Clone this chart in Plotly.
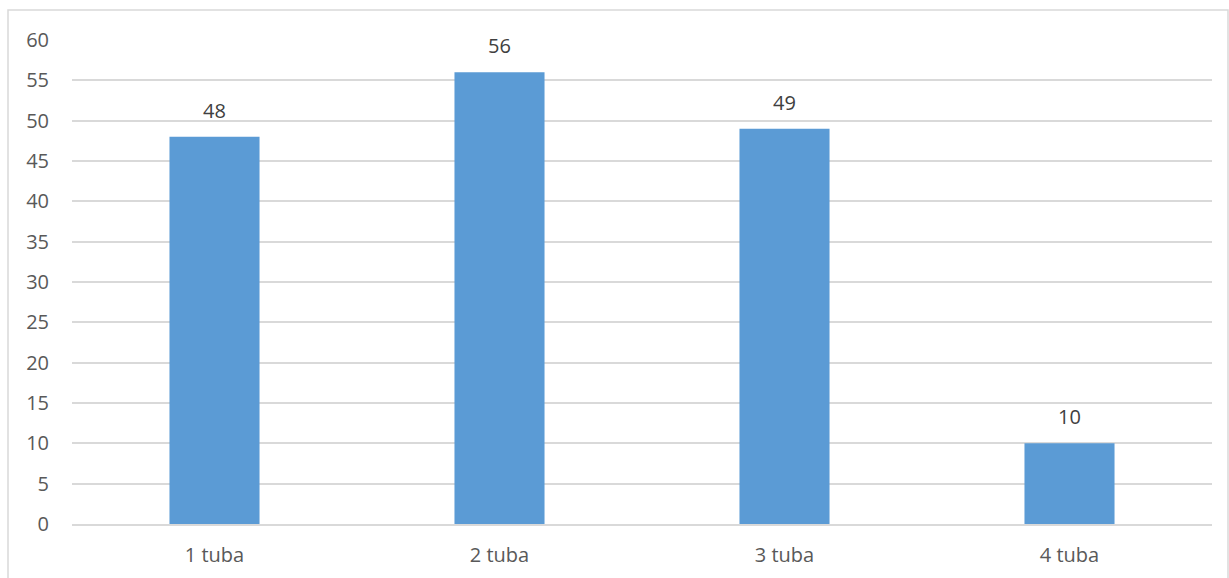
import plotly.graph_objects as go

categories = ["1 tuba", "2 tuba", "3 tuba", "4 tuba"]
values = [48, 56, 49, 10]
y_ticks = [0, 5, 10, 15, 20, 25, 30, 35, 40, 45, 50, 55, 60]

W, H = 1229, 578
L, R, T, B = 72, 17, 40, 54
pw, ph = W - L - R, H - T - B

fig = go.Figure(go.Bar(
    x=categories, y=values,
    marker=dict(color="#5B9BD5", line=dict(width=0)),
    cliponaxis=False,
))

for c, v in zip(categories, values):
    fig.add_annotation(x=c, y=v, text=str(v), showarrow=False, yanchor="bottom", yshift=11,
                       font=dict(family="Open Sans", size=20, color="#404040"))

fig.update_layout(
    width=W, height=H,
    margin=dict(l=L, r=R, t=T, b=B, autoexpand=False),
    paper_bgcolor="white", plot_bgcolor="white",
    bargap=0.684,
    showlegend=False,
    font=dict(family="Open Sans", size=20, color="#595959"),
    xaxis=dict(showgrid=False, showline=True, linecolor="#d9d9d9", linewidth=1.5, automargin=False,
               ticks="", ticklabelstandoff=12, tickfont=dict(size=20, color="#595959")),
    yaxis=dict(range=[0, 60], tickvals=y_ticks, showgrid=True, gridcolor="#d9d9d9", gridwidth=1.5,
               zeroline=False, showline=False, ticks="", ticklabelstandoff=22, automargin=False,
               tickfont=dict(size=20, color="#595959")),
    shapes=[dict(type="rect", xref="paper", yref="paper",
                 x0=(8 - L) / pw, x1=(1228 - L) / pw,
                 y0=-(H - T - ph + 20) / ph, y1=1 + (T - 10) / ph,
                 line=dict(color="#d9d9d9", width=1.5), fillcolor="rgba(0,0,0,0)", layer="below")],
)

fig.write_html("out.html")
